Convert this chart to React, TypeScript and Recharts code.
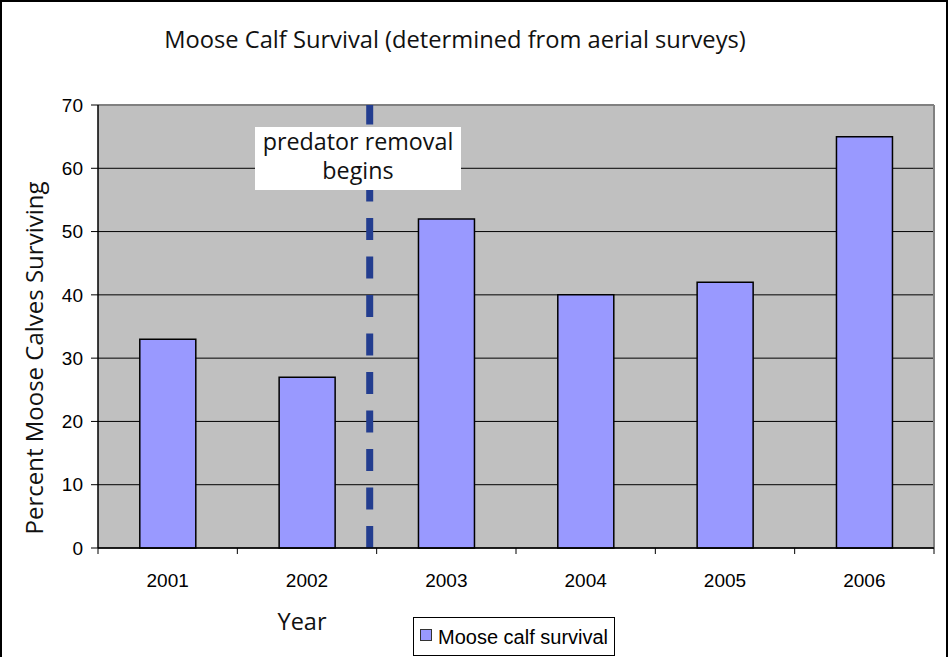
import React from 'react';
import { BarChart, Bar, XAxis, YAxis, CartesianGrid, ReferenceLine } from 'recharts';

const years = ['2001', '2002', '2003', '2004', '2005', '2006'];
const survival = [33, 27, 52, 40, 42, 65];
const yTicks = [0, 10, 20, 30, 40, 50, 60, 70];
const edgeTicks = [0, 1, 2, 3, 4, 5, 6];
// predator removal starts just before the 2003 survey
const removalStart = 1.95;

const data = years.map((year, i) => ({ year, survival: survival[i], pos: i + 0.5 }));

const W = 951;
const H = 657;
const PLOT_LEFT = 98;
const PLOT_RIGHT = 934;
const band = (PLOT_RIGHT - PLOT_LEFT) / years.length;

const myriad = '"Open Sans", "Noto Sans", sans-serif';
const arial = '"Liberation Sans", Arial, sans-serif';

function YearTick({ x, y, payload }: any) {
  const i = payload.value;
  if (i >= years.length) return null;
  return (
    <text x={x + band / 2} y={y + 31} textAnchor="middle" fontFamily={arial} fontSize={19} fill="#000">
      {years[i]}
    </text>
  );
}

export default function App() {
  return (
    <div style={{ position: 'relative', width: W, height: H, overflow: 'hidden', background: '#fff' }}>
      <style>{'body{margin:0}'}</style>
      <BarChart
        width={W}
        height={H}
        data={data}
        margin={{ top: 105, right: W - PLOT_RIGHT, bottom: 69, left: 0 }}
        barCategoryGap="30%"
      >
        <CartesianGrid xAxisId="cat" vertical={false} stroke="#000" fill="#c0c0c0" />
        <XAxis xAxisId="cat" dataKey="year" hide height={0} />
        <XAxis
          xAxisId="edges"
          dataKey="pos"
          type="number"
          domain={[0, 6]}
          ticks={edgeTicks}
          allowDataOverflow
          height={40}
          tickSize={6}
          tickMargin={2}
          tick={<YearTick />}
          axisLine={{ stroke: '#000', strokeWidth: 1.5 }}
          tickLine={{ stroke: '#000' }}
        />
        <YAxis
          width={PLOT_LEFT}
          domain={[0, 70]}
          ticks={yTicks}
          interval={0}
          tickSize={7}
          tickMargin={8}
          tick={{ fill: '#000', fontSize: 19, fontFamily: arial }}
          axisLine={{ stroke: '#000', strokeWidth: 1.5 }}
          tickLine={{ stroke: '#000' }}
        />
        <ReferenceLine xAxisId="cat" y={70} stroke="#808080" strokeWidth={2} />
        <ReferenceLine xAxisId="edges" x={6} stroke="#808080" strokeWidth={2} />
        <Bar
          xAxisId="cat"
          dataKey="survival"
          fill="#9999ff"
          stroke="#000"
          strokeWidth={1.5}
          isAnimationActive={false}
        />
        <ReferenceLine
          xAxisId="edges"
          x={removalStart}
          stroke="#233d8f"
          strokeWidth={7}
          strokeDasharray="22 16.5"
        />
      </BarChart>

      <svg width={W} height={H} style={{ position: 'absolute', left: 0, top: 0, pointerEvents: 'none' }}>
        <rect x={1} y={1} width={946} height={H + 20} fill="none" stroke="#000" strokeWidth={2} />
        <text x={455} y={48} textAnchor="middle" fontFamily={myriad} fontSize={23.7} fill="#111">
          Moose Calf Survival (determined from aerial surveys)
        </text>
        <text
          x={0}
          y={0}
          transform="translate(43 358) rotate(-90)"
          textAnchor="middle"
          fontFamily={myriad}
          fontSize={24}
          fill="#111"
        >
          Percent Moose Calves Surviving
        </text>
        <text x={302} y={630} textAnchor="middle" fontFamily={myriad} fontSize={23.5} fill="#111">
          Year
        </text>

        <rect x={255} y={127} width={206} height={63} fill="#fff" />
        <text x={358} y={150} textAnchor="middle" fontFamily={myriad} fontSize={23.3} fill="#111">
          predator removal
        </text>
        <text x={358} y={179} textAnchor="middle" fontFamily={myriad} fontSize={23.3} fill="#111">
          begins
        </text>

        <rect x={413.5} y={617.5} width={201} height={38} fill="#fff" stroke="#000" strokeWidth={1} />
        <rect x={420.5} y={629.5} width={11} height={11} fill="#9999ff" stroke="#333" strokeWidth={1} />
        <text x={438} y={644} fontFamily={arial} fontSize={20} fill="#000">
          Moose calf survival
        </text>
      </svg>
    </div>
  );
}
